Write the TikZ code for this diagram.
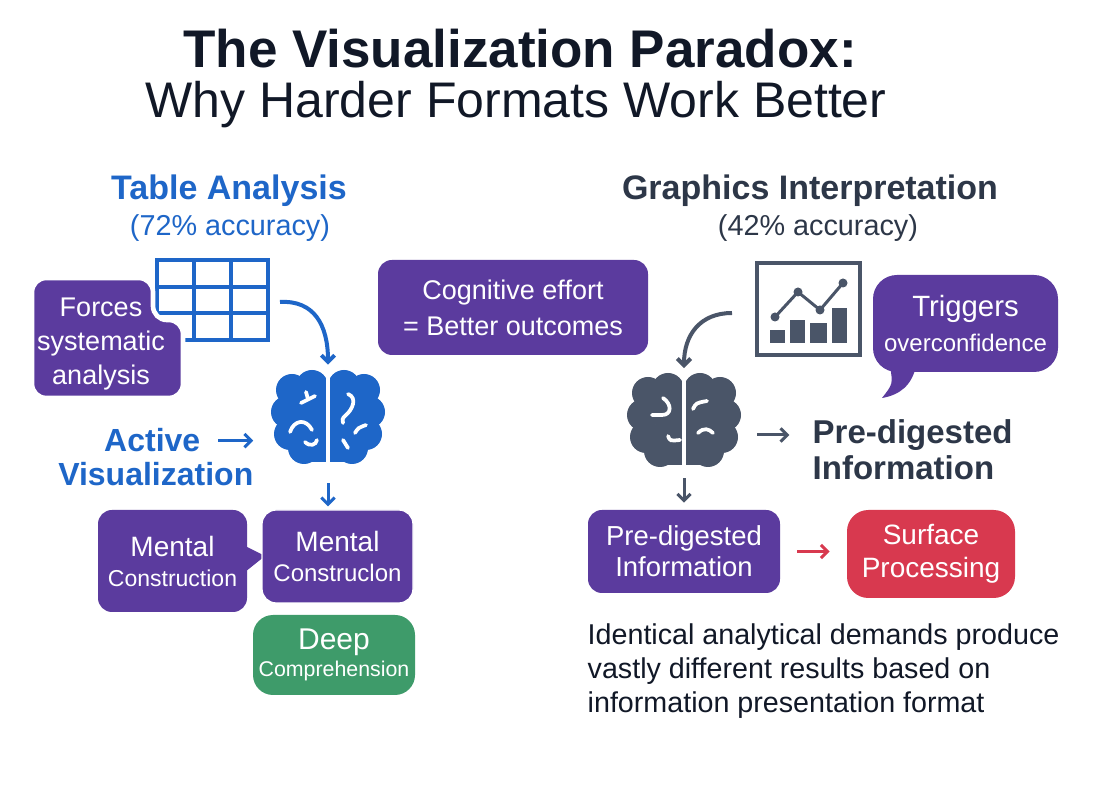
\documentclass[tikz,border=0pt]{standalone}
\usepackage{fontspec}
\setmainfont{Liberation Sans}
\usetikzlibrary{arrows.meta,positioning}
\definecolor{vpurple}{HTML}{5B3B9E}
\definecolor{vblue}{HTML}{1E66C8}
\definecolor{vgreen}{HTML}{3E9B6A}
\definecolor{vred}{HTML}{D8394F}
\definecolor{vslate}{HTML}{4A5568}
\definecolor{vink}{HTML}{111827}
\definecolor{vdark}{HTML}{2D3748}
\newcommand{\fsz}[2]{\fontsize{#1}{#2}\selectfont}
\newcommand{\brainbody}[1]{%
  \fill[#1] (-28,-34) rectangle (28,44);
  \foreach \bx/\by in {-36/-28,-16/-32,16/-32,36/-28,-41/-6,41/-6,-38/16,38/16,-24/30,24/30}
    \fill[#1] (\bx,\by) circle[radius=16];
  \fill[white] (-2,-52) rectangle (2,52);
}

\begin{document}
\begin{tikzpicture}[x=0.75pt,y=-0.75pt,
  pbox/.style={rectangle,rounded corners=10.5pt,fill=vpurple,text=white,align=center,inner sep=0pt},
  icon/.style={inner sep=0pt},
  sq/.style={white,line width=2.8pt,line cap=round},
  tipb/.style={-{Straight Barb[length=5pt,width=10pt]}}]
\fill[white] (0,0) rectangle (1108,787);
\useasboundingbox (0,0) rectangle (1108,787);

\node[font={\fsz{39.75}{44}\bfseries},text=vink,anchor=base] (title) at (520,68) {The Visualization Paradox:};
\node[font={\fsz{37.5}{42}},text=vink,anchor=base] (subtitle) at (516,118) {Why Harder Formats Work Better};

\node[font={\fsz{25.5}{30}\bfseries},text=vblue,anchor=base] (tabhead) at (229,200) {Table Analysis};
\node[font={\fsz{21.6}{26}},text=vblue,anchor=base] (tabacc) at (230,236) {(72\% accuracy)};
\node[font={\fsz{25.5}{30}\bfseries},text=vdark,anchor=base] (grahead) at (810,200) {Graphics Interpretation};
\node[font={\fsz{21.6}{26}},text=vdark,anchor=base] (graacc) at (818,236) {(42\% accuracy)};

\node[icon,minimum width=83.25pt,minimum height=60pt] (tab) at (212.5,300) {};
\draw[vblue,line width=3pt] (157,260) rectangle (268,340);
\foreach \gx in {194,231} \draw[vblue,line width=3pt] (\gx,260) -- (\gx,340);
\foreach \gy in {287,313} \draw[vblue,line width=3pt] (157,\gy) -- (268,\gy);

\path[fill=vpurple,draw=white,line width=3.5pt,rounded corners=10.5pt]
  (32,278) -- (153,278) -- (153,320) -- (183,320) -- (183,398) -- (32,398) -- cycle;
\node[font={\fsz{20.25}{25.5}},text=white,align=center] (forces) at (101,344) {Forces\\systematic\\analysis};

\node[pbox,minimum width=202.5pt,minimum height=71.25pt,font={\fsz{20.25}{27}}] (cogn) at (513,307.5) {Cognitive effort\\= Better outcomes};

\node[icon,minimum width=86.25pt,minimum height=67.5pt] (brainL) at (328,418) {};
\begin{scope}[shift={(brainL.center)}]
  \brainbody{vblue}
  \draw[sq] (-27,-15) .. controls (-20,-19) .. (-13,-22) (-20,-19) -- (-22,-26);
  \draw[sq] (-38,14) .. controls (-34,2) and (-22,0) .. (-16,12);
  \draw[sq] (-23,24) .. controls (-18,29) and (-12,27) .. (-11,22);
  \draw[sq] (20,-24) .. controls (30,-20) and (24,-8) .. (18,-3) .. controls (14,0) and (14,3) .. (15,5);
  \draw[sq] (27,15) .. controls (30,10) .. (38,7);
  \draw[sq] (15,22) -- (20,30);
\end{scope}
\coordinate (tabtail) at (280,302);
\draw[vblue,line width=3pt,tipb,shorten >=6pt] (tabtail) .. controls (314,300) and (328,325) .. (brainL.north);

\node[font={\fsz{24}{28}\bfseries},text=vblue,anchor=base east] (actA) at (205,452) {Active};
\node[font={\fsz{24}{28}\bfseries},text=vblue,anchor=base east] (actB) at (258,486) {Visualization};
\draw[vblue,line width=2.25pt,tipb,shorten <=9.75pt,shorten >=12.75pt] (actA.east) -- (actA.east -| brainL.west);

\node[pbox,minimum width=111.75pt,minimum height=76.5pt,font={\fsz{18}{22.5}}] (mentA) at (172.5,561) {{\fsz{21}{22.5}Mental}\\{\fsz{17.25}{22.5}Construction}};
\fill[vpurple] (245,546) -- (265,556) -- (245,572) -- cycle;
\node[pbox,draw=white,line width=1pt,minimum width=113.25pt,minimum height=69.75pt,font={\fsz{18}{22.5}}] (mentB) at (337.5,556.5) {{\fsz{21}{22.5}Mental}\\{\fsz{18}{22.5}Construclon}};
\draw[vblue,line width=2.25pt,tipb,shorten <=15pt,shorten >=2.25pt] (brainL.south) -- (brainL.south |- mentB.north);

\node[pbox,fill=vgreen,rounded corners=15pt,minimum width=121.5pt,minimum height=60pt,font={\fsz{16}{20.25}}] (deep) at (334,655) {{\fsz{22.5}{20.25}Deep}\\{\fsz{16}{20.25}Comprehension}};

\node[icon,minimum width=77.25pt,minimum height=69pt] (chart) at (808.5,309) {};
\draw[vslate,line width=3pt] (757,263) rectangle (860,355);
\foreach \bl/\br/\bt in {770/785/330,790/805/320,810/827/323,832/847/308}
  \fill[vslate] (\bl,\bt) rectangle (\br,343);
\draw[vslate,line width=2.25pt,line join=round] (775,317) -- (798,292) -- (820,310) -- (843,283);
\foreach \px/\py in {775/317,798/292,820/310,843/283}
  \fill[vslate] (\px,\py) circle[radius=4.5];

\node[pbox,rounded corners=18pt,minimum width=138.75pt,minimum height=72.75pt,font={\fsz{18}{26.25}}] (trig) at (965.5,323.5) {{\fsz{22}{26.25}Triggers}\\{\fsz{18}{26.25}overconfidence}};
\fill[vpurple] (890,366) .. controls (893,384) .. (882,398) .. controls (900,395) and (912,385) .. (916,366) -- cycle;

\node[icon,minimum width=85.5pt,minimum height=69pt] (brainR) at (684,421) {};
\begin{scope}[shift={(brainR.center)}]
  \brainbody{vslate}
  \draw[sq] (-21,-23) .. controls (-12,-17) and (-12,-6) .. (-22,-6) -- (-32,-6);
  \draw[sq] (-16,15) .. controls (-14,20) .. (-4,19);
  \draw[sq] (9,-12) .. controls (12,-18) .. (23,-20);
  \draw[sq] (14,12) .. controls (20,6) and (25,8) .. (29,12);
\end{scope}
\coordinate (charttail) at (732,313);
\draw[vslate,line width=3pt,tipb,shorten >=5pt] (charttail) .. controls (700,313) and (684,335) .. (brainR.north);

\node[font={\fsz{24.75}{27}\bfseries},text=vdark,align=left,anchor=west] (pdtext) at (808,450) {Pre-digested\\Information};
\draw[vslate,line width=2.25pt,tipb,shorten <=12pt,shorten >=14pt] ([yshift=-10.5pt]brainR.east) -- ([yshift=-10.5pt]brainR.east -| pdtext.west);

\node[pbox,minimum width=144pt,minimum height=62.25pt,font={\fsz{20.6}{23.25}}] (pdbox) at (684,551.5) {Pre-digested\\Information};
\draw[vslate,line width=2.25pt,tipb,shorten <=8.25pt,shorten >=5.25pt] (brainR.south) -- (brainR.south |- pdbox.north);

\node[pbox,fill=vred,rounded corners=16pt,minimum width=126pt,minimum height=66pt,font={\fsz{21}{24.75}}] (surf) at (931,554) {Surface\\Processing};
\draw[vred,line width=2.25pt,tipb,shorten <=12.75pt,shorten >=12.75pt] (pdbox.east) -- (pdbox.east -| surf.west);

\node[font={\fsz{21.5}{25.5}},text=vink,align=left,anchor=west] (note) at (583,671) {Identical analytical demands produce\\vastly different results based on\\information presentation format};
\end{tikzpicture}
\end{document}
